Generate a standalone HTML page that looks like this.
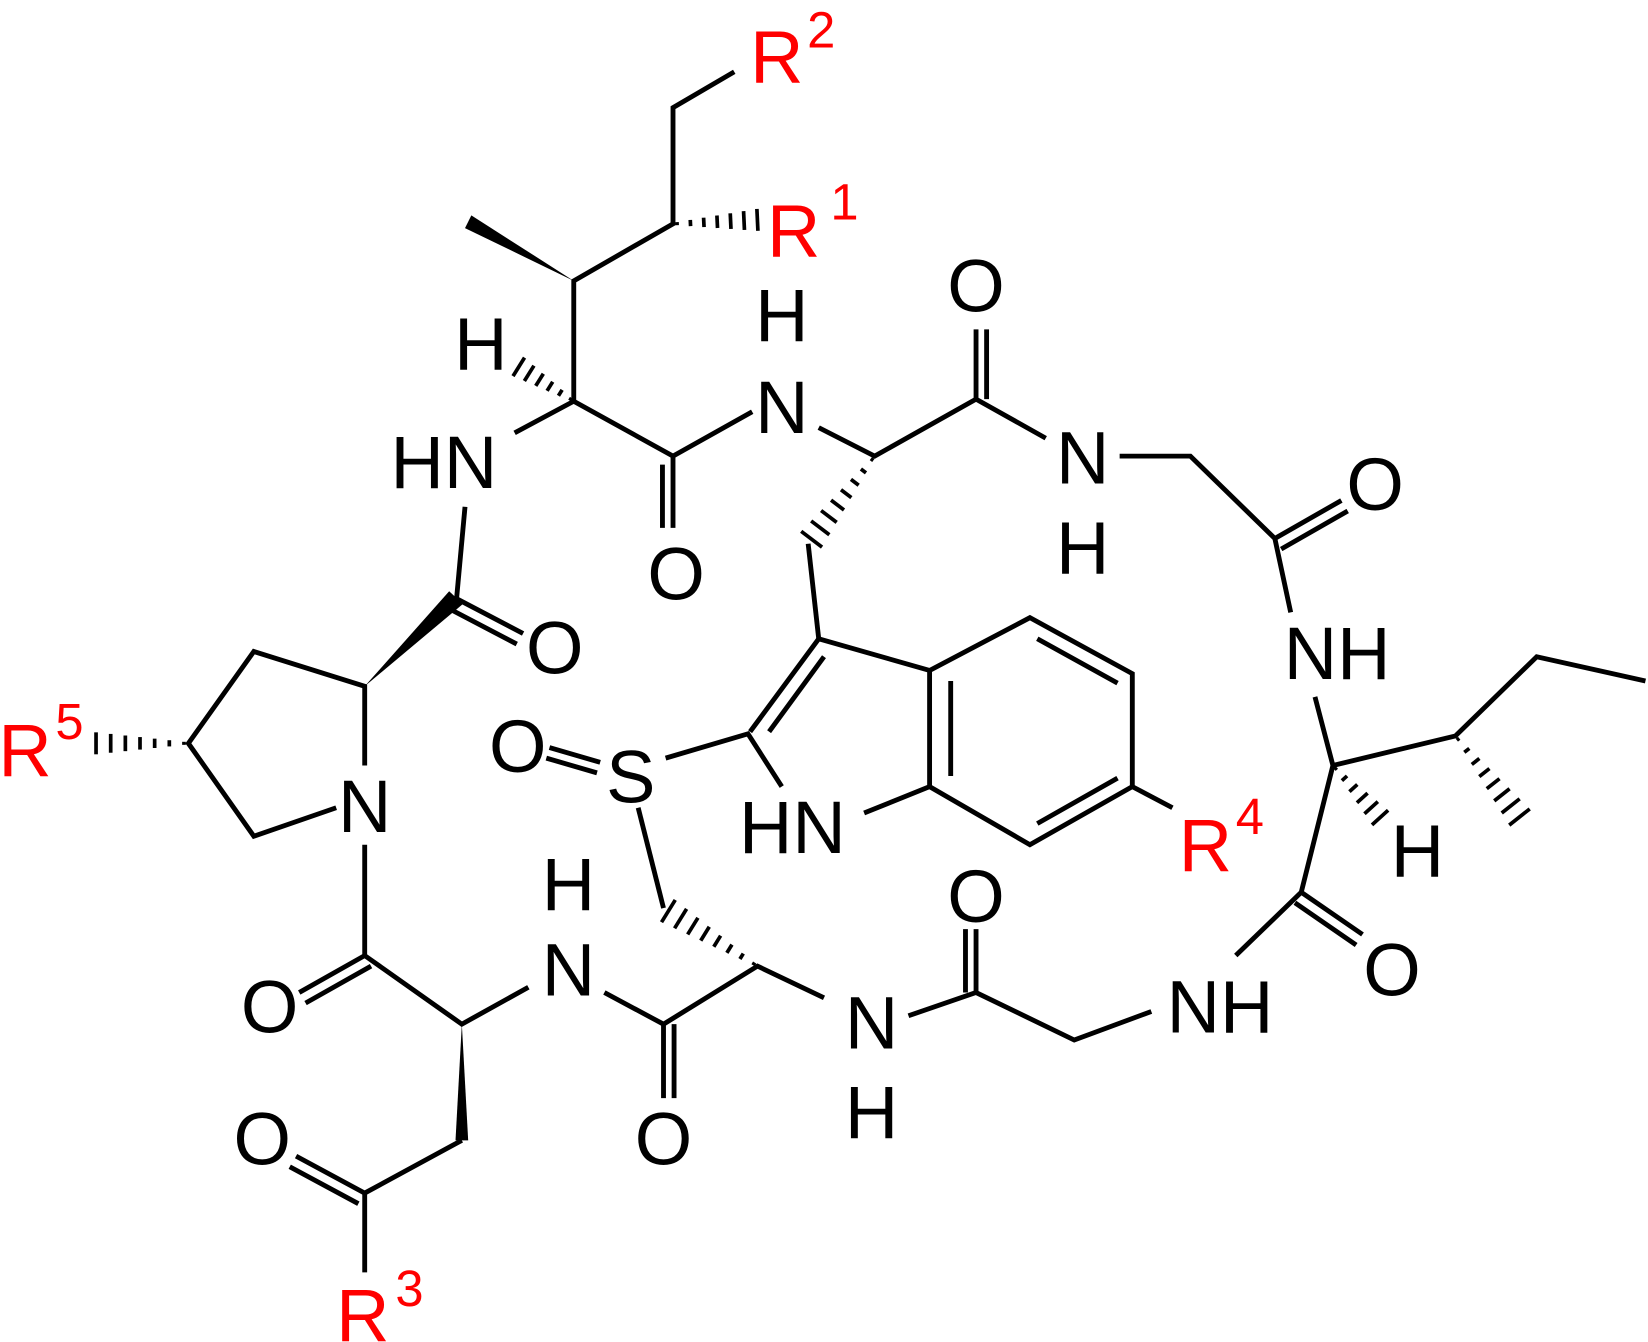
<!DOCTYPE html>
<html><head><meta charset="utf-8"><style>
html,body{margin:0;padding:0;background:#fff}
svg{display:block}
text{font-family:"Liberation Sans",Arial,sans-serif;font-size:70px}
.r{fill:#f00}
</style></head><body>
<svg id="s" width="1648" height="1342" viewBox="0 0 1560 1271" xmlns="http://www.w3.org/2000/svg">
<g stroke="#000" stroke-width="4.6" fill="none" stroke-linecap="butt">
<path d="M695 68L637 102L637 212L543 266L543 380L487 410"/>
<path d="M543 380L637 432L712 390"/>
<path d="M637 432L637 500M627 440L627 500"/>
<path d="M775 405L828 432L924 378L990 415"/>
<path d="M924 378L924 312M934 378L934 312"/>
<path d="M1060 432L1127 432L1207 510L1222 580"/>
<path d="M1207 510L1270 474M1213 520L1276 484"/>
<path d="M1245 660L1262 725L1378 697L1455 622L1558 645"/>
<path d="M1262 725L1232 845L1170 905"/>
<path d="M1232 845L1290 885M1226 855L1284 895"/>
<path d="M1090 958L1017 985L924 940L860 962"/>
<path d="M924 940L924 880M914 940L914 880"/>
<path d="M780 945L717 915L628 970L572 940"/>
<path d="M628 970L628 1040M638 970L638 1040"/>
<path d="M500 935L437 970L345 905L345 800"/>
<path d="M345 905L283 940M351 915L289 950"/>
<path d="M318 765L240 792L178 704L240 617L345 650L345 725"/>
<path d="M432 567L440 480"/>
<path d="M432 567L495 600M426 577L489 610"/>
<path d="M437 1080L345 1130L345 1205"/>
<path d="M345 1130L280 1095M339 1140L274 1105"/>
<path d="M520 708L568 722M517 718L565 732"/>
<path d="M630 718L708 695L740 745"/>
<path d="M818 770L880 745L880 635L775 605L710 693"/>
<path d="M775 605L765 515"/>
<path d="M780 622L728 693"/>
<path d="M628 860L604 765"/>
<path d="M880 635L975 585L1072 638L1072 745L975 800L880 745"/>
<path d="M900 645L900 735M982 605L1058 647M1058 737L982 780"/>
<path d="M1072 745L1110 765"/>
</g>
<g fill="#000">
<polygon points="543,266 446,204 440,216"/>
<polygon points="345,650 425,560 438,572"/>
<polygon points="437,970 431,1080 443,1080"/>
</g>
<g id="h" stroke="#000" stroke-width="3.5"></g>
<g text-anchor="middle">
<text x="740" y="410">N</text><text x="740" y="323">H</text>
<text x="420" y="462">HN</text>
<text x="455" y="350">H</text>
<text x="640" y="568">O</text>
<text x="924" y="295">O</text>
<text x="1025" y="458">N</text><text x="1025" y="543">H</text>
<text x="1302" y="483">O</text>
<text x="1266" y="643">NH</text>
<text x="1342" y="830">H</text>
<text x="1318" y="943">O</text>
<text x="1155" y="978">NH</text>
<text x="924" y="873">O</text>
<text x="825" y="993">N</text><text x="825" y="1078">H</text>
<text x="628" y="1103">O</text>
<text x="538" y="943">N</text><text x="538" y="862">H</text>
<text x="255" y="978">O</text>
<text x="345" y="788">N</text>
<text x="525" y="638">O</text>
<text x="248" y="1103">O</text>
<text x="597" y="760">S</text>
<text x="490" y="731">O</text>
<text x="750" y="808">HN</text>
</g>
<g class="r">
<text x="710" y="78">R</text><text x="764" y="45" style="font-size:48px">2</text>
<text x="726" y="243">R</text><text x="786" y="208" style="font-size:48px">1</text>
<text x="-2" y="735">R</text><text x="52" y="700" style="font-size:48px">5</text>
<text x="1116" y="825">R</text><text x="1170" y="790" style="font-size:48px">4</text>
<text x="318" y="1270">R</text><text x="374" y="1237" style="font-size:48px">3</text>
</g>
</svg>
<script>
var g=document.getElementById('h');
function hash(x1,y1,x2,y2,n,w){var dx=x2-x1,dy=y2-y1,L=Math.hypot(dx,dy),px=-dy/L,py=dx/L;
for(var i=0;i<n;i++){var t=(i+0.3)/(n-0.3),cx=x1+dx*t,cy=y1+dy*t,hw=1+w*t;
var l=document.createElementNS('http://www.w3.org/2000/svg','line');
l.setAttribute('x1',cx-px*hw);l.setAttribute('y1',cy-py*hw);l.setAttribute('x2',cx+px*hw);l.setAttribute('y2',cy+py*hw);g.appendChild(l);}}
hash(637,212,722,208,7,10);
hash(543,380,487,345,6,10);
hash(828,432,765,515,8,12);
hash(1378,697,1442,778,8,12);
hash(1262,725,1310,778,6,10);
hash(717,915,628,860,8,12);
hash(178,704,85,704,7,10);
</script>
</body></html>
